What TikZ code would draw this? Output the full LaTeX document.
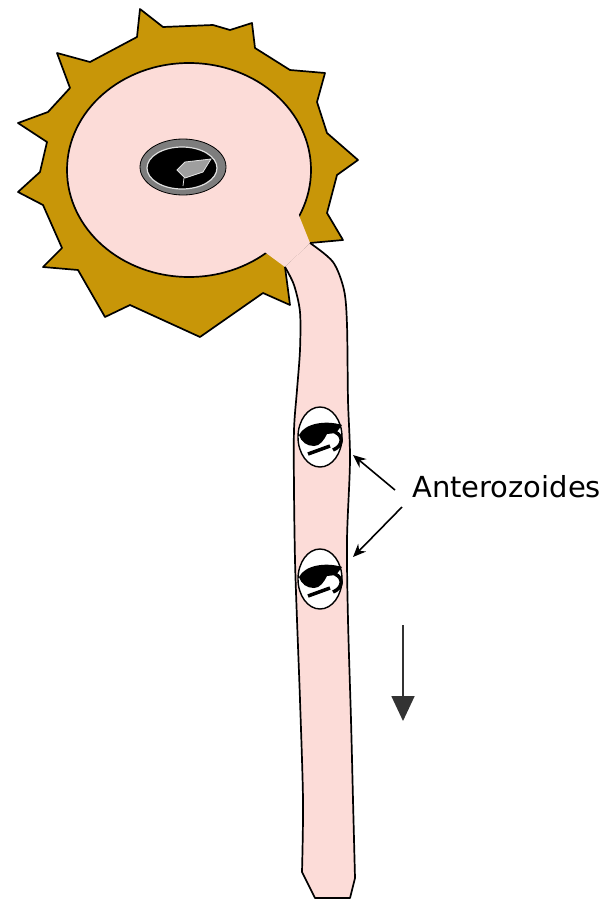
\documentclass[tikz,border=0pt]{standalone}
\usepackage{fontspec}
\setmainfont{DejaVu Sans}
\usetikzlibrary{arrows.meta}

\definecolor{tubepink}{RGB}{252,220,216}
\definecolor{exinegold}{RGB}{200,150,8}
\definecolor{nucgray}{RGB}{125,125,125}
\definecolor{rimgray}{RGB}{225,225,225}

\tikzset{
    outline/.style={draw=black, line width=1.7pt, line join=round},
    pointer/.style={-{Stealth[length=13pt,width=11pt]}, line width=1.6pt},
    flowarrow/.style={-{Triangle[length=25pt,width=23pt]}, line width=1.8pt, black!80},
    caption/.style={font=\fontsize{29}{35}\selectfont, inner sep=0pt},
}

\begin{document}
\begin{tikzpicture}[x=1pt,y=-1pt]
    \useasboundingbox (0,0) rectangle (613,902);

    % spiny exine
    \draw[outline, fill=exinegold] (140,9) -- (163,27) -- (213,25) -- (230,30)
        -- (252,23) -- (255,48) -- (290,70) -- (325,73) -- (317,102)
        -- (327,133) -- (358,160) -- (337,175) -- (327,213) -- (343,240)
        -- (310,243) -- (285,267) -- (290,305) -- (263,293) -- (200,337)
        -- (130,305) -- (105,317) -- (78,270) -- (43,267) -- (62,248)
        -- (43,205) -- (18,192) -- (40,172) -- (47,142) -- (18,123)
        -- (48,112) -- (70,88) -- (57,53) -- (90,62) -- (137,37) -- cycle;

    % grain body
    \draw[outline, fill=tubepink] (189,170) ellipse [x radius=122, y radius=107];

    % opening of the tube through the wall
    \fill[tubepink] (310,243) -- (298,213) -- (262,250) -- (285,267) -- cycle;

    % pollen tube
    \draw[outline, fill=tubepink]
        plot[smooth] coordinates {(310,243) (333,262) (344,290) (347,325)
            (348,400) (350,460) (347,540) (348,620) (351,720) (353,800) (355,878)}
        -- (350,898) -- (315,898) -- (302,872)
        -- plot[smooth] coordinates {(302,872) (303,800) (300,700) (297,620)
            (295,560) (294,490) (294,430) (297,390) (300,350) (300,312)
            (294,285) (285,267)};

    % nucleus
    \draw[line width=0.8pt, fill=nucgray] (183,167) ellipse [x radius=43, y radius=28];
    \draw[line width=1.2pt, draw=rimgray, fill=black] (182,168) ellipse [x radius=35, y radius=21];
    \draw[line width=0.8pt, draw=rimgray, fill=gray!75] (177,170) -- (185,162)
        -- (211,159) -- (203,172) -- (185,178) -- cycle;
    \draw[line width=0.8pt, rimgray] (184,178) -- (183,186);

    % anterozoids in the tube
    \foreach \cy in {437,579} {
        \begin{scope}[shift={(320,\cy)}]
            \draw[line width=1.4pt, fill=white] (0,0) ellipse [x radius=22, y radius=30];
            \fill (-21,-2) .. controls (-15,-14) and (6,-17) .. (22,-12)
                -- (16,-4) -- (7,-3) .. controls (4,3) and (0,9) .. (-6,9)
                .. controls (-13,9) and (-19,5) .. (-21,-2) -- cycle;
            \draw[line width=3.5pt] (15,-5) .. controls (24,-1) and (23,9) .. (13,13);
            \draw[line width=3.5pt] (-12,17) -- (10,9);
        \end{scope}
    }

    \coordinate (tipA) at (353,455);
    \coordinate (tipB) at (353,557);
    \coordinate (tailA) at (395,490);
    \coordinate (tailB) at (402,507);
    \node[caption, anchor=base west] (lbl) at (412,497) {Anterozoides};
    \draw[pointer] (tailA) -- (tipA);
    \draw[pointer] (tailB) -- (tipB);

    % growth direction
    \coordinate (flowA) at (403,625);
    \coordinate (flowB) at (403,721);
    \draw[flowarrow] (flowA) -- (flowB);
\end{tikzpicture}
\end{document}
